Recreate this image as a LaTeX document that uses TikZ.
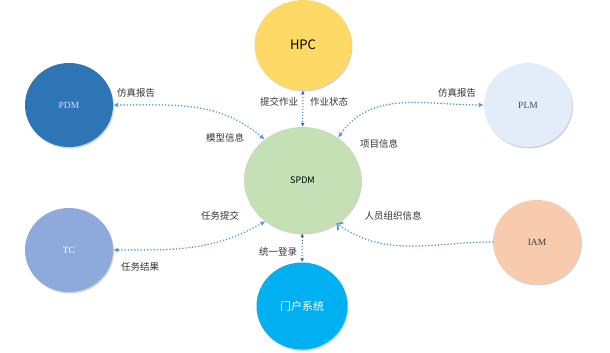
\documentclass[tikz,border=0pt]{standalone}
\usepackage{fontspec}
\setmainfont{Liberation Serif}
\newfontfamily\cjk{Noto Sans CJK SC}
\usetikzlibrary{arrows.meta,shapes.geometric,shadows}
\definecolor{pdmc}{HTML}{2E75B6}
\definecolor{plmc}{HTML}{E3EDFA}
\definecolor{tcc}{HTML}{8EA9DB}
\definecolor{iamc}{HTML}{F8CBAD}
\definecolor{spdmc}{HTML}{C5E0B4}
\definecolor{hpcc}{HTML}{FFD966}
\definecolor{portalc}{HTML}{00B0F0}
\definecolor{linkc}{HTML}{5B9BD5}
\definecolor{vlinkc}{HTML}{2E6FB0}
\tikzset{sys/.style={ellipse,inner sep=0pt,minimum width=88pt,minimum height=84pt,draw=none,drop shadow={opacity=0.35,shadow xshift=1pt,shadow yshift=-1.5pt}},
tag/.style={font=\cjk\fontsize{9.5}{11}\selectfont,text=black!80,inner sep=0pt},
link/.style={line width=1.8pt,line cap=round,dash pattern=on 0pt off 3.2pt,draw=linkc,{Latex[length=5pt,width=5pt]}-{Latex[length=5pt,width=5pt]}},
vlink/.style={dotted,line width=1pt,draw=vlinkc,{Latex[length=4pt,width=4pt]}-{Latex[length=4pt,width=4pt]}}}
\begin{document}
\begin{tikzpicture}[x=1pt,y=-1pt]
\useasboundingbox(0,0)rectangle(610,353);
\node[sys,fill=hpcc,minimum width=97pt,minimum height=90pt,font=\cjk\fontsize{13}{15}\selectfont](hpc)at(303,45){HPC};
\node[sys,fill=spdmc,minimum width=117pt,minimum height=106pt,font=\cjk\fontsize{9}{11}\selectfont](spdm)at(302.5,180){SPDM};
\node[sys,fill=portalc,minimum width=91pt,minimum height=87pt,text=white,font=\cjk\fontsize{11}{13}\selectfont](portal)at(302,306){门户系统};
\node[sys,fill=pdmc,text=white!85!blue,font=\fontsize{9.5}{11}\selectfont](pdm)at(69,105){PDM};
\node[sys,fill=plmc,text=black!70,font=\fontsize{9.5}{11}\selectfont](plm)at(528,105){PLM};
\node[sys,fill=tcc,text=white,font=\fontsize{9.5}{11}\selectfont](tc)at(69,250){TC};
\node[sys,fill=iamc,text=black!75,font=\fontsize{9.5}{11}\selectfont](iam)at(537,242){IAM};
\draw[vlink](hpc)--(spdm);
\draw[vlink](spdm)--(portal);
\draw[link](pdm.east)to[out=0,in=140](spdm.133);
\draw[link](plm.west)to[out=180,in=55](spdm.50);
\draw[link](spdm.-132)to[out=210,in=0](tc.east);
\draw[link,-{Straight Barb[length=4pt,width=9pt]}](iam.west)to[out=180,in=-35](spdm.-52);
\node[tag](t1)at(279,102){提交作业};
\node[tag](t2)at(329,102){作业状态};
\node[tag](t3)at(136,93){仿真报告};
\node[tag](t4)at(225,138){模型信息};
\node[tag](t5)at(457,93){仿真报告};
\node[tag](t6)at(379,144){项目信息};
\node[tag](t7)at(220,216){任务提交};
\node[tag](t8)at(140,267){任务结果};
\node[tag](t9)at(393,216){人员组织信息};
\node[tag](t10)at(278,252){统一登录};
\end{tikzpicture}
\end{document}
